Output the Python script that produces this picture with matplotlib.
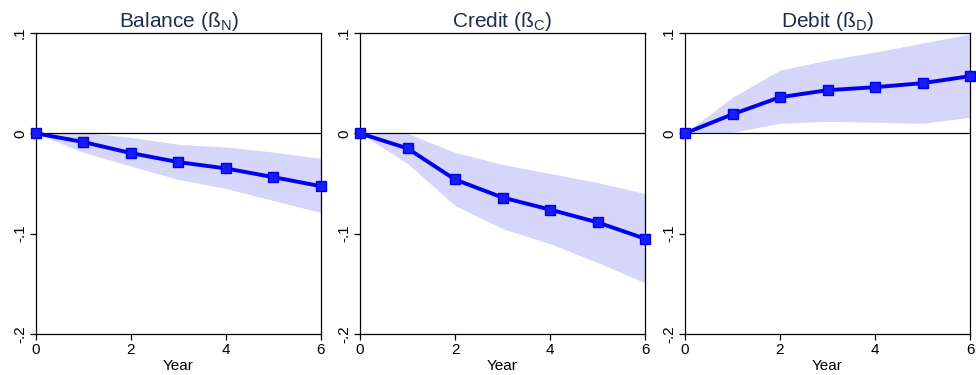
import matplotlib
matplotlib.use("Agg")
import matplotlib.pyplot as plt

plt.rcParams['font.family'] = ['Liberation Sans', 'DejaVu Sans']

years = [0, 1, 2, 3, 4, 5, 6]

balance = [0, -0.0087, -0.0197, -0.0287, -0.035, -0.0437, -0.0527]
balance_hi = [0, 0.001, -0.004, -0.011, -0.0137, -0.0187, -0.025]
balance_lo = [0, -0.019, -0.0327, -0.046, -0.055, -0.067, -0.079]

credit = [0, -0.015, -0.046, -0.064, -0.076, -0.0887, -0.105]
credit_hi = [0, 0.0, -0.019, -0.031, -0.040, -0.049, -0.060]
credit_lo = [0, -0.030, -0.072, -0.095, -0.110, -0.1287, -0.149]

debit = [0, 0.019, 0.036, 0.043, 0.046, 0.050, 0.057]
debit_hi = [0, 0.036, 0.063, 0.073, 0.081, 0.090, 0.099]
debit_lo = [0, 0.001, 0.010, 0.012, 0.011, 0.010, 0.016]

titles = ["Balance (ß$_{\\mathregular{N}}$)", "Credit (ß$_{\\mathregular{C}}$)", "Debit (ß$_{\\mathregular{D}}$)"]
xticks = [0, 2, 4, 6]
yticks = [-0.2, -0.1, 0, 0.1]
yticklabels = ["-.2", "-.1", "0", ".1"]

series = [(balance, balance_lo, balance_hi),
          (credit, credit_lo, credit_hi),
          (debit, debit_lo, debit_hi)]

fig = plt.figure(figsize=(9.76, 3.75), dpi=100)
lefts = [36, 360, 685]
for i, (vals, lo, hi) in enumerate(series):
    ax = fig.add_axes([lefts[i] / 976, 41 / 375, 285 / 976, 301 / 375])
    ax.fill_between(years, lo, hi, color=(0.84, 0.84, 0.98), linewidth=0, zorder=1)
    ax.axhline(0, color='black', linewidth=0.9, zorder=2)
    ax.plot(years, vals, color='#0000ee', linewidth=2.8, marker='s', markersize=7.5,
            markerfacecolor='#1a1aff', markeredgecolor='#0000ee', zorder=3, clip_on=False)
    ax.set_xlim(0, 6)
    ax.set_ylim(-0.2, 0.1)
    ax.set_xticks(xticks)
    ax.set_yticks(yticks)
    ax.set_yticklabels(yticklabels, rotation=90, va='center')
    ax.tick_params(axis='both', labelsize=11, length=4, width=0.9, colors='black', pad=2.5)
    ax.set_xlabel("Year", fontsize=11, labelpad=1.5)
    ax.set_title(titles[i], fontsize=15, color='#1e2d50', pad=4)
    for s in ax.spines.values():
        s.set_linewidth(0.9)

fig.savefig("out.png", dpi=100)
